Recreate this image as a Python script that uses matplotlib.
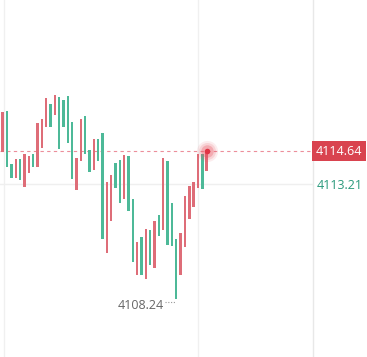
import matplotlib
matplotlib.use("Agg")
import matplotlib.pyplot as plt
import numpy as np

# bar data (red = up, green = down)
opens = [4114.60, 4116.37, 4114.08, 4113.47, 4114.29, 4113.08, 4113.69, 4114.51,
         4113.95, 4114.77, 4115.68, 4116.67, 4116.20, 4116.98, 4116.85, 4117.02,
         4115.89, 4112.95, 4114.21, 4116.15, 4114.68, 4113.82, 4115.16, 4115.42,
         4110.23, 4111.61, 4114.12, 4114.25, 4112.56, 4114.42, 4112.56, 4109.28,
         4110.92, 4109.10, 4111.22, 4109.58, 4111.87, 4111.22, 4114.21, 4112.39,
         4110.83, 4109.28, 4110.49, 4111.70, 4112.22, 4113.04, 4114.51, 4113.78]
closes = [4116.33, 4113.95, 4113.47, 4114.29, 4113.39, 4114.51, 4114.42, 4113.95,
          4115.85, 4116.02, 4116.93, 4115.68, 4117.06, 4114.73, 4115.68, 4114.99,
          4113.43, 4114.34, 4116.02, 4114.51, 4113.73, 4115.16, 4114.21, 4110.83,
          4113.30, 4113.60, 4113.04, 4112.39, 4114.47, 4112.05, 4109.84, 4110.70,
          4109.28, 4111.27, 4109.71, 4111.61, 4110.96, 4114.34, 4110.58, 4110.53,
          4108.24, 4111.09, 4112.69, 4113.13, 4113.30, 4114.51, 4113.00, 4114.64]

last_price = 4114.64
ref_price = 4113.21
low_price = 4108.24

red = "#de6d78"
green = "#4db998"

fig = plt.figure(figsize=(3.67, 3.57), dpi=100)
ax = fig.add_axes([0, 0, 1, 1])
ax.set_xlim(-0.62, 83.94)
ax.set_ylim(4105.72, 4121.18)
ax.axis("off")

# light grid
for gx in [0.3, 45.0]:
    ax.axvline(gx, color="#f0f0f0", lw=1, zorder=0)
ax.axvline(71.5, color="#e8e8e8", lw=1, zorder=0)
ax.axhline(ref_price, xmax=0.85, color="#efefef", lw=1, zorder=0)

x = np.arange(len(opens))
o = np.array(opens)
c = np.array(closes)
colors = [red if cc >= oo else green for oo, cc in zip(o, c)]
ax.bar(x, np.abs(c - o), bottom=np.minimum(o, c), width=0.55, color=colors, zorder=2)

# current price line + glowing dot
ax.axhline(last_price, xmax=0.855, color="#ec8e9a", lw=0.8, ls=(0, (3, 3)), zorder=1)
last_x = x[-1]
for s, a in [(230, 0.10), (150, 0.16), (80, 0.3)]:
    ax.scatter(last_x, last_price, s=s, color="#e8505e", alpha=a, lw=0, zorder=3)
ax.scatter(last_x, last_price, s=16, color="#e03545", lw=0, zorder=4)

# price labels on the right
ax.text(72.2, last_price, f"{last_price:.2f}", color="white", fontsize=9,
        family="Open Sans", va="center", ha="left", zorder=5,
        bbox=dict(boxstyle="square,pad=0.3", fc="#d9434f", ec="none"))
ax.text(72.4, ref_price - 0.08, f"{ref_price:.2f}", color="#2a9a7c", fontsize=9,
        family="Open Sans", va="center", ha="left")

# lowest point marker
low_i = int(np.argmin(np.minimum(o, c)))
ax.plot([low_i - 2.6, low_i - 0.3], [low_price - 0.15, low_price - 0.15],
        color="#999999", lw=0.8, ls=(0, (1, 1.5)))
ax.text(low_i - 2.9, low_price - 0.3, f"{low_price:.2f}", color="#666666",
        fontsize=9, family="Open Sans", va="center", ha="right")

fig.savefig("out.png", dpi=100, facecolor="white")
